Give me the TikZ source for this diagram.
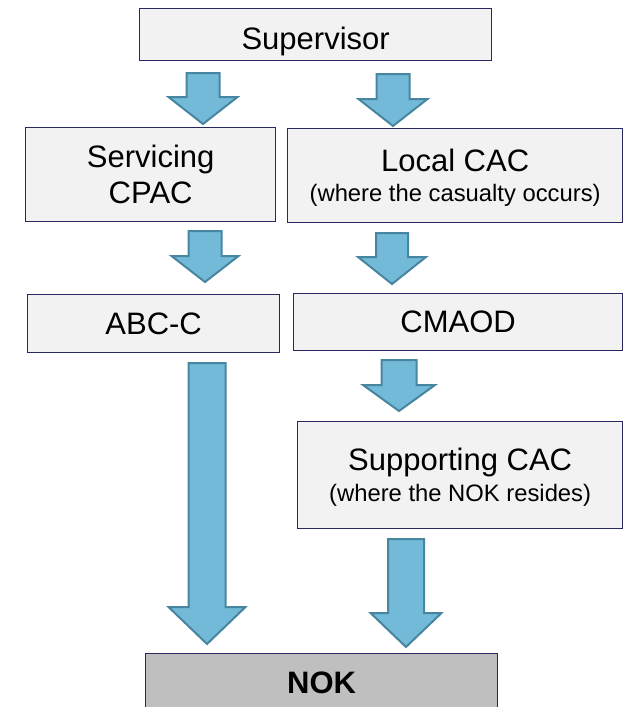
\documentclass[tikz,border=0pt]{standalone}
\usepackage{fontspec}
\setmainfont{Liberation Sans}
\usetikzlibrary{calc}
\definecolor{boxfill}{RGB}{242,242,242}
\definecolor{boxline}{RGB}{40,40,96}
\definecolor{nokfill}{RGB}{191,191,191}
\definecolor{arrowfill}{RGB}{114,186,216}
\definecolor{arrowline}{RGB}{72,133,160}
\newcommand\mainsize{\fontsize{31}{36}\selectfont}
\newcommand\subsize{\fontsize{23.8}{28}\selectfont}
% block arrow: (centre x : shaft top : head start : tip)(shaft width : head width)
\def\blockarrow(#1:#2:#3:#4)(#5:#6){\draw[blockarrow] ({#1-#5/2},#2) -- ({#1+#5/2},#2) -- ({#1+#5/2},#3) -- ({#1+#6/2},#3) -- (#1,#4) -- ({#1-#6/2},#3) -- ({#1-#5/2},#3) -- cycle;}

\begin{document}
\begin{tikzpicture}[x=1pt, y=-1pt,
	box/.style={draw=boxline, fill=boxfill, line width=1.3pt, anchor=north west, align=center, inner sep=0pt, font=\mainsize},
	blockarrow/.style={draw=arrowline, fill=arrowfill, line width=2pt}]
		%%%%% START %%%%%
		\useasboundingbox (0,0) rectangle (624,707);
		
		\node[box, minimum width=352pt, minimum height=52pt, text height=30pt, text depth=0pt] (sup) at (139,8) {Supervisor};
		
		\blockarrow(203:73:97:124)(33:69)
		\blockarrow(393:74:99:126)(33:69)
		
		\node[box, minimum width=250pt, minimum height=94pt] (cpac) at (25,127) {Servicing\\CPAC};
		\node[box, minimum width=335pt, minimum height=94pt, text depth=-7pt] (lcac) at (287,128) {Local CAC\\[-6pt]{\subsize (where the casualty occurs)}};
		
		\blockarrow(205:231:256:282)(33:67)
		\blockarrow(392:233:257:284)(32:68)
		
		\node[box, minimum width=252pt, minimum height=58pt] (abcc) at (27,294) {ABC-C};
		\node[box, minimum width=329pt, minimum height=57pt] (cmaod) at (293,293) {CMAOD};
		
		\blockarrow(399:360:385:411)(35:72)
		
		\node[box, minimum width=325pt, minimum height=107pt, text depth=-4pt] (scac) at (297,421) {Supporting CAC\\[-5pt]{\subsize (where the NOK resides)}};
		
		\blockarrow(207:363:607:644)(37:77)
		\blockarrow(406:539:613:647)(36:71)
		
		\node[box, fill=nokfill, minimum width=352pt, minimum height=58pt, font=\mainsize\bfseries] (nok) at (145,653) {NOK};
		%%%%% END %%%%%
\end{tikzpicture}
\end{document}
